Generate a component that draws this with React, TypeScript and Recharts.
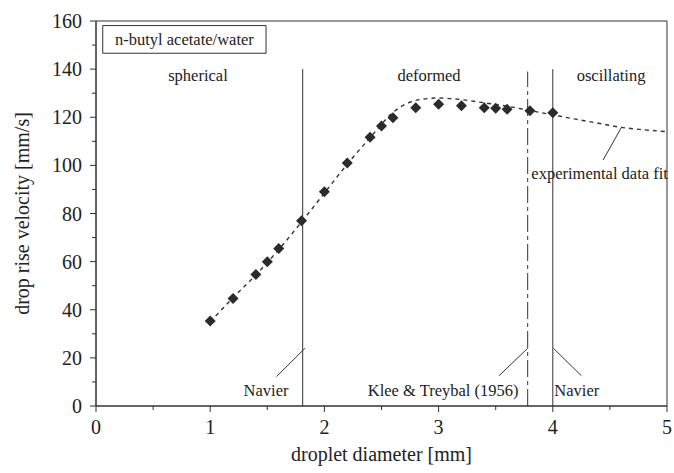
import React from 'react';
import {
  ComposedChart,
  Line,
  Scatter,
  XAxis,
  YAxis,
  ReferenceLine,
  ReferenceArea,
  ReferenceDot,
} from 'recharts';

// measured rise velocities (mm/s) against droplet diameter (mm)
const diameters = [1.0, 1.2, 1.4, 1.5, 1.6, 1.8, 2.0, 2.2, 2.4, 2.5, 2.6, 2.8, 3.0, 3.2, 3.4, 3.5, 3.6, 3.8, 4.0];
const velocities = [35.3, 44.7, 54.7, 60, 65.5, 77, 89, 101, 111.7, 116.4, 119.8, 124, 125.4, 124.8, 124, 123.7, 123.3, 122.7, 121.9];

// fitted curve through the experimental data
const fitDiameters = [1.0, 1.2, 1.4, 1.6, 1.8, 2.0, 2.2, 2.4, 2.6, 2.8, 3.0, 3.2, 3.4, 3.6, 3.8, 4.0, 4.2, 4.4, 4.6, 4.8, 5.0];
const fitVelocities = [35, 45, 54.5, 65, 76.5, 88.5, 100.5, 111.5, 122, 127, 128, 127.3, 126, 124.6, 122.8, 121, 119.2, 117.5, 115.8, 114.8, 114];

// regime boundaries (mm)
const navierSpherical = 1.81;
const kleeTreybal = 3.78;
const navierOscillating = 4.0;

const xTicks = [0, 0.5, 1, 1.5, 2, 2.5, 3, 3.5, 4, 4.5, 5];
const yTicks = [0, 10, 20, 30, 40, 50, 60, 70, 80, 90, 100, 110, 120, 130, 140, 150, 160];

const points = diameters.map((d, i) => ({ d, v: velocities[i] }));
const fit = fitDiameters.map((d, i) => ({ d, v: fitVelocities[i] }));

const FONT = '"Liberation Serif", "Times New Roman", serif';
const INK = '#333';
const TEXT = '#222';

const XTick = (props: any) => {
  const { x, y, payload } = props;
  const major = Number.isInteger(payload.value);
  return (
    <g>
      <line x1={x} y1={y} x2={x} y2={y + (major ? 6 : 4)} stroke={INK} strokeWidth={1} />
      {major && (
        <text x={x} y={y + 28} textAnchor="middle" fontSize={20} fontFamily={FONT} fill={TEXT}>
          {payload.value}
        </text>
      )}
    </g>
  );
};

const YTick = (props: any) => {
  const { x, y, payload } = props;
  const major = payload.value % 20 === 0;
  return (
    <g>
      <line x1={x} y1={y} x2={x - (major ? 6 : 4)} y2={y} stroke={INK} strokeWidth={1} />
      {major && (
        <text x={x - 14} y={y} dy="0.35em" textAnchor="end" fontSize={20} fontFamily={FONT} fill={TEXT}>
          {payload.value}
        </text>
      )}
    </g>
  );
};

const Diamond = (props: any) => {
  const { cx, cy } = props;
  const r = 5.5;
  return (
    <polygon
      points={`${cx},${cy - r} ${cx + r},${cy} ${cx},${cy + r} ${cx - r},${cy}`}
      fill="#2b2b2b"
    />
  );
};

const note = (value: string) => ({
  value,
  position: 'center' as const,
  fontSize: 16.5,
  fontFamily: FONT,
  fill: TEXT,
});

export default function App() {
  return (
    <div style={{ position: 'absolute', left: 0, top: 0, background: '#fff' }}>
      <ComposedChart
        width={674}
        height={473}
        margin={{ top: 21, right: 7, left: 10, bottom: 7 }}
      >
        <XAxis
          dataKey="d"
          type="number"
          domain={[0, 5]}
          ticks={xTicks}
          interval={0}
          allowDataOverflow
          height={60}
          tickSize={0}
          tickMargin={0}
          tickLine={false}
          tick={<XTick />}
          axisLine={{ stroke: INK }}
          label={{
            value: 'droplet diameter [mm]',
            position: 'insideBottom',
            offset: 5,
            fontSize: 20,
            fontFamily: FONT,
            fill: TEXT,
          }}
        />
        <YAxis
          dataKey="v"
          type="number"
          domain={[0, 160]}
          ticks={yTicks}
          interval={0}
          allowDataOverflow
          width={86}
          tickSize={0}
          tickMargin={0}
          tickLine={false}
          tick={<YTick />}
          axisLine={{ stroke: INK }}
          label={{
            value: 'drop rise velocity [mm/s]',
            angle: -90,
            position: 'insideLeft',
            offset: 12,
            fontSize: 20,
            fontFamily: FONT,
            fill: TEXT,
            style: { textAnchor: 'middle' },
          }}
        />

        {/* plot frame */}
        <ReferenceArea x1={0} x2={5} y1={0} y2={160} fill="none" stroke={INK} strokeWidth={1} />

        {/* system name box */}
        <ReferenceArea
          x1={0.059}
          x2={1.489}
          y1={146.6}
          y2={158.1}
          fill="#fff"
          fillOpacity={1}
          stroke={INK}
          strokeWidth={1}
          label={note('n-butyl acetate/water')}
        />

        {/* regime boundaries */}
        <ReferenceLine
          segment={[{ x: navierSpherical, y: 0 }, { x: navierSpherical, y: 140 }]}
          stroke={INK}
          strokeWidth={1}
        />
        <ReferenceLine
          segment={[{ x: kleeTreybal, y: 0 }, { x: kleeTreybal, y: 139 }]}
          stroke={INK}
          strokeWidth={1}
          strokeDasharray="17 4 4 4"
        />
        <ReferenceLine
          segment={[{ x: navierOscillating, y: 0 }, { x: navierOscillating, y: 140 }]}
          stroke={INK}
          strokeWidth={1}
        />

        {/* leader lines */}
        <ReferenceLine segment={[{ x: 1.83, y: 24 }, { x: 1.58, y: 12.2 }]} stroke={INK} strokeWidth={1} />
        <ReferenceLine segment={[{ x: 3.78, y: 24 }, { x: 3.53, y: 12.6 }]} stroke={INK} strokeWidth={1} />
        <ReferenceLine segment={[{ x: 4.005, y: 24 }, { x: 4.25, y: 12.6 }]} stroke={INK} strokeWidth={1} />
        <ReferenceLine segment={[{ x: 4.6, y: 115.7 }, { x: 4.44, y: 102.2 }]} stroke={INK} strokeWidth={1} />

        <Line
          data={fit}
          dataKey="v"
          type="monotone"
          stroke={INK}
          strokeWidth={1.4}
          strokeDasharray="4 4"
          dot={false}
          activeDot={false}
          isAnimationActive={false}
        />
        <Scatter data={points} dataKey="v" shape={<Diamond />} isAnimationActive={false} />

        {/* region and boundary labels */}
        <ReferenceDot x={0.893} y={137.6} r={0} fill="none" stroke="none" label={note('spherical')} />
        <ReferenceDot x={2.916} y={137.6} r={0} fill="none" stroke="none" label={note('deformed')} />
        <ReferenceDot x={4.51} y={137.6} r={0} fill="none" stroke="none" label={note('oscillating')} />
        <ReferenceDot x={1.489} y={6.6} r={0} fill="none" stroke="none" label={note('Navier')} />
        <ReferenceDot x={3.04} y={6.6} r={0} fill="none" stroke="none" label={note('Klee & Treybal (1956)')} />
        <ReferenceDot x={4.21} y={6.6} r={0} fill="none" stroke="none" label={note('Navier')} />
        <ReferenceDot x={4.41} y={96.8} r={0} fill="none" stroke="none" label={note('experimental data fit')} />
      </ComposedChart>
    </div>
  );
}
